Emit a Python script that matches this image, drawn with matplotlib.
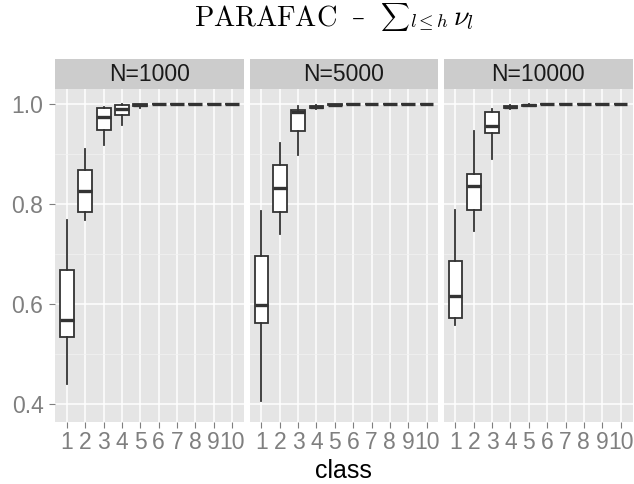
import matplotlib
matplotlib.use("Agg")
import matplotlib.pyplot as plt
from matplotlib.ticker import MultipleLocator

plt.rcParams['mathtext.fontset'] = 'cm'

# data: per panel, per class (1..10): whislo, q1, med, q3, whishi
panels = ["N=1000", "N=5000", "N=10000"]
classes = list(range(1, 11))

whislo_1000 = [0.440, 0.768, 0.918, 0.958, 0.992, 0.998, 0.998, 0.999, 0.999, 0.999]
q1_1000     = [0.533, 0.783, 0.947, 0.978, 0.995, 0.999, 0.999, 0.999, 0.999, 0.999]
med_1000    = [0.568, 0.825, 0.973, 0.989, 0.997, 0.9995, 0.9995, 0.9995, 0.9995, 0.9995]
q3_1000     = [0.668, 0.867, 0.991, 0.998, 0.999, 1.000, 1.000, 1.000, 1.000, 1.000]
whishi_1000 = [0.768, 0.909, 0.993, 1.000, 1.000, 1.000, 1.000, 1.000, 1.000, 1.000]

whislo_5000 = [0.405, 0.739, 0.898, 0.989, 0.996, 0.998, 0.998, 0.998, 0.998, 0.998]
q1_5000     = [0.561, 0.783, 0.945, 0.991, 0.997, 0.999, 0.999, 0.999, 0.999, 0.999]
med_5000    = [0.598, 0.831, 0.983, 0.993, 0.998, 0.9995, 0.9995, 0.9995, 0.9995, 0.9995]
q3_5000     = [0.695, 0.877, 0.987, 0.995, 0.999, 1.000, 1.000, 1.000, 1.000, 1.000]
whishi_5000 = [0.785, 0.921, 0.996, 0.997, 1.000, 1.000, 1.000, 1.000, 1.000, 1.000]

whislo_10000 = [0.558, 0.745, 0.889, 0.990, 0.995, 0.998, 0.998, 0.998, 0.998, 0.998]
q1_10000     = [0.571, 0.788, 0.941, 0.991, 0.996, 0.999, 0.999, 0.999, 0.999, 0.999]
med_10000    = [0.616, 0.836, 0.956, 0.993, 0.997, 0.9995, 0.9995, 0.9995, 0.9995, 0.9995]
q3_10000     = [0.685, 0.859, 0.983, 0.996, 0.998, 1.000, 1.000, 1.000, 1.000, 1.000]
whishi_10000 = [0.788, 0.945, 0.989, 0.997, 1.000, 1.000, 1.000, 1.000, 1.000, 1.000]

data = [
    (whislo_1000, q1_1000, med_1000, q3_1000, whishi_1000),
    (whislo_5000, q1_5000, med_5000, q3_5000, whishi_5000),
    (whislo_10000, q1_10000, med_10000, q3_10000, whishi_10000),
]

W, H = 634, 484
fig = plt.figure(figsize=(W / 100, H / 100), dpi=100)

lefts = [55, 249.5, 443.5]
pw = 189
ptop, pbot = 89, 422
strip_top = 59

grey_txt = "#7F7F7F"

for i, (name, (lo, q1, med, q3, hi)) in enumerate(zip(panels, data)):
    ax = fig.add_axes([lefts[i] / W, 1 - pbot / H, pw / W, (pbot - ptop) / H])
    ax.set_facecolor("#E5E5E5")
    for s in ax.spines.values():
        s.set_visible(False)

    stats = []
    for k in range(len(classes)):
        stats.append(dict(whislo=lo[k], q1=q1[k], med=med[k], q3=q3[k],
                          whishi=hi[k], fliers=[]))
    ax.bxp(stats, positions=classes, widths=0.75, showcaps=False,
           showfliers=False, patch_artist=True,
           boxprops=dict(facecolor="white", edgecolor="#333333", linewidth=1.3),
           whiskerprops=dict(color="#333333", linewidth=1.3),
           medianprops=dict(color="#333333", linewidth=2.4, solid_capstyle="butt"),
           zorder=3)

    ax.set_xlim(0.35, 10.65)
    ax.set_ylim(0.3634, 1.03)
    ax.yaxis.set_major_locator(MultipleLocator(0.2))
    ax.yaxis.set_minor_locator(MultipleLocator(0.1))
    ax.set_xticks(classes)
    ax.set_xticklabels([str(c) for c in classes])
    ax.grid(which="major", color="white", linewidth=1.1, zorder=0)
    ax.grid(which="minor", axis="y", color="#F2F2F2", linewidth=0.5, zorder=0)
    ax.set_axisbelow(True)
    ax.tick_params(axis="both", which="major", length=4.3, width=0.8,
                   color=grey_txt, labelcolor=grey_txt, labelsize=16.5, pad=2)
    ax.tick_params(axis="y", which="minor", length=0)
    for lab in ax.get_xticklabels() + ax.get_yticklabels():
        lab.set_family("Liberation Sans")
    if i > 0:
        ax.set_yticklabels([])
        ax.tick_params(axis="y", which="major", length=0)
    else:
        ax.set_yticklabels(["%.1f" % v for v in ax.get_yticks()])
        ax.tick_params(axis="y", pad=4)

    # strip
    sax = fig.add_axes([lefts[i] / W, 1 - ptop / H, pw / W, (ptop - strip_top) / H])
    sax.set_facecolor("#CCCCCC")
    sax.set_xticks([])
    sax.set_yticks([])
    for s in sax.spines.values():
        s.set_visible(False)
    sax.text(0.5, 0.47, name, ha="center", va="center", fontsize=16.5,
             color="#1A1A1A", family="Liberation Sans", transform=sax.transAxes)

fig.text(343 / W, 1 - 478 / H, "class", ha="center", va="baseline",
         fontsize=18, color="black", family="Liberation Sans")

# title built from pieces so the sum sign keeps its inline size
rend = fig.canvas.get_renderer()
probe = fig.text(0, 0, r"$\mathrm{PARAFAC}$", fontsize=20, math_fontfamily="cm")
fs_title = 20 * 143 / probe.get_window_extent(rend).width
probe.remove()

fig.text(194 / W, 1 - 25 / H, r"$\mathrm{PARAFAC}$", ha="left", va="baseline",
         fontsize=fs_title, math_fontfamily="cm")
fig.text(358 / W, 1 - 25 / H, "–", ha="center", va="baseline",
         fontsize=fs_title * 0.9, family="DejaVu Serif")

probe = fig.text(0, 0, r"$\sum$", fontsize=13, math_fontfamily="cm")
fs_sum = 13 * 31 / probe.get_window_extent(rend).height
probe.remove()
fig.text(395 / W, 1 - 17 / H, r"$\sum$", ha="center", va="center",
         fontsize=fs_sum, math_fontfamily="cm")

fig.text(410 / W, 1 - 27.5 / H, r"$l\leq h$", ha="left", va="baseline",
         fontsize=fs_title * 0.66, math_fontfamily="cm")
fig.text(453 / W, 1 - 25 / H, r"$\nu_l$", ha="left", va="baseline",
         fontsize=fs_title, math_fontfamily="cm")

fig.savefig("out.png", dpi=100)
